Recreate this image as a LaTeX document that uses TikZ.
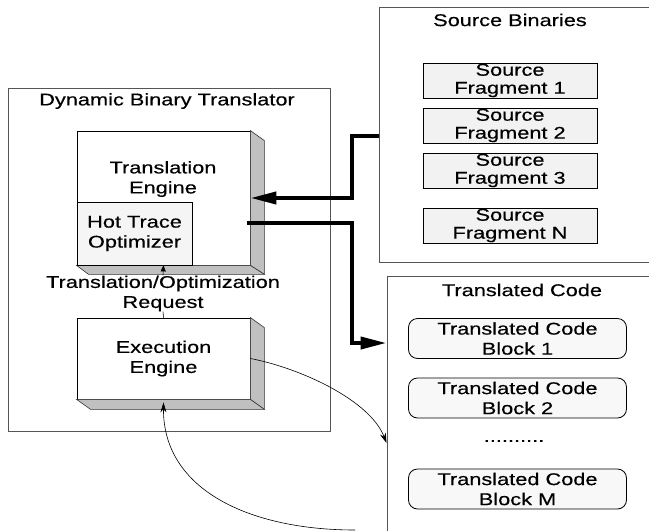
\documentclass[tikz,border=0pt]{standalone}
\usepackage{fontspec}
\setmainfont[FakeStretch=1.28, FakeBold=0.4]{Liberation Sans}
\usepackage{tikz}
\usetikzlibrary{arrows.meta}

\definecolor{shadowgray}{RGB}{192,192,192}
\definecolor{fraggray}{RGB}{242,242,242}
\definecolor{blockgray}{RGB}{248,248,248}
\definecolor{hotgray}{RGB}{245,245,245}
\definecolor{framegray}{RGB}{85,85,85}

\begin{document}
\begin{tikzpicture}[x=1pt, y=-1pt,
	every node/.style={font=\fontsize{17}{20}\selectfont, align=center, inner sep=0pt},
	frame/.style={draw=framegray, line width=1pt},
	engine/.style={draw, fill=white, line width=0.8pt},
	frag/.style={draw, fill=fraggray, line width=0.8pt, minimum width=174pt, minimum height=35pt, font=\fontsize{17}{18}\selectfont},
	block/.style={draw, fill=blockgray, line width=0.8pt, rounded corners=9pt, minimum width=218pt, minimum height=40pt},
	side/.style={fill=shadowgray, draw=black!80, line width=0.6pt},
	bigarrow/.style={line width=4pt, -{Triangle[length=26pt,width=12pt]}},
	thinarrow/.style={line width=0.6pt, -{Stealth[length=10pt,width=6pt]}}]
	\useasboundingbox (0,0) rectangle (649,531);
	\clip (0,0) rectangle (649,531);

	% the three containers
	\node (dbt) at (169,259.5) [frame, minimum width=322pt, minimum height=343pt] {};
	\node (dbttitle) at (167,101) {Dynamic Binary Translator};
	\node (sb) at (539.5,134.5) [frame, minimum width=321pt, minimum height=255pt] {};
	\node (sbtitle) at (510,20) {Source Binaries};
	\node (tc) at (543.5,443) [frame, minimum width=313pt, minimum height=334pt] {};
	\node (tctitle) at (522,290) {Translated Code};

	% translator
	\node (te) at (163.5,198) [engine, minimum width=173pt, minimum height=134pt] {};
	\draw[side] (te.north east) -- ++(14,10) -- ([shift={(14,9)}]te.south east) -- (te.south east) -- cycle;
	\draw[side] (te.south west) -- ++(12,9) -- ([shift={(14,9)}]te.south east) -- (te.south east) -- cycle;
	\node (tetext) at (163,179) {Translation\\Engine};
	\node (hto) at (134.5,233.5) [engine, fill=hotgray, minimum width=115pt, minimum height=63pt] {Hot Trace\\Optimizer};
	\node (ee) at (163.5,358.5) [engine, minimum width=173pt, minimum height=81pt] {Execution\\Engine};
	\draw[side] (ee.north east) -- ++(14,10) -- ([shift={(14,10)}]ee.south east) -- (ee.south east) -- cycle;
	\draw[side] (ee.south west) -- ++(14,10) -- ([shift={(14,10)}]ee.south east) -- (ee.south east) -- cycle;
	\node (req) at (163,293.5) {Translation/Optimization\\Request};
	\draw[line width=0.6pt, -{Triangle[length=6pt,width=5pt]}] (ee.north) -- (req.south) (req.north) -- (te.south);

	% source fragments
	\node (f1) at (510,80.5) [frag] {Source\\Fragment 1};
	\node (f2) at (510,125.5) [frag] {Source\\Fragment 2};
	\node (f3) at (510,170.5) [frag] {Source\\Fragment 3};
	\node (fN) at (510,225.5) [frag] {Source\\Fragment N};

	% translated blocks
	\node (b1) at (517.5,338.5) [block] {Translated Code\\Block 1};
	\node (b2) at (517.5,398) [block] {Translated Code\\Block 2};
	\node (dots) at (514,441) {..........};
	\node (bM) at (517.5,489) [block] {Translated Code\\Block M};

	% connectors
	\draw[bigarrow] (sb.west |- 0,136) -- (352,136) |- (te.east);
	\draw[bigarrow] ([shift={(-3,25)}]te.east) -| (352,343) -- (tc.west |- 0,343);
	\draw[thinarrow] (ee.east) .. controls (300,368) and (370,400) .. (tc.west);
	\coordinate (ret) at (355,530);
	\draw[thinarrow] (ret) .. controls (250,530) and (163,490) .. ([shift={(0,3)}]ee.south);
\end{tikzpicture}
\end{document}
